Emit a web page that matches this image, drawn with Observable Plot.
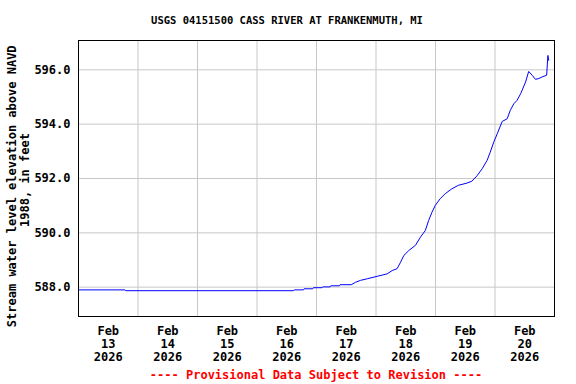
<!DOCTYPE html>
<html>
<head>
<meta charset="utf-8">
<script src="https://cdn.jsdelivr.net/npm/d3@7"></script>
<script src="https://cdn.jsdelivr.net/npm/@observablehq/plot@0.6"></script>
<style>
  html, body { margin: 0; padding: 0; background: white; }
</style>
</head>
<body>
<div id="chart"></div>
<script>
const title = "USGS 04151500 CASS RIVER AT FRANKENMUTH, MI";
const yLabel1 = "Stream water level elevation above NAVD";
const yLabel2 = "1988, in feet";
const footer = "---- Provisional Data Subject to Revision ----";

const times = [
  "2026-02-13T00:00", "2026-02-13T18:45", "2026-02-13T19:00", "2026-02-16T14:45",
  "2026-02-16T15:00", "2026-02-16T18:45", "2026-02-16T19:00", "2026-02-16T22:30",
  "2026-02-16T22:45", "2026-02-17T02:15", "2026-02-17T02:30", "2026-02-17T05:30",
  "2026-02-17T05:45", "2026-02-17T09:15", "2026-02-17T09:30", "2026-02-17T14:00",
  "2026-02-17T15:45", "2026-02-17T17:45", "2026-02-17T20:30", "2026-02-18T00:30",
  "2026-02-18T04:30", "2026-02-18T06:30", "2026-02-18T08:30", "2026-02-18T09:55",
  "2026-02-18T11:15", "2026-02-18T13:15", "2026-02-18T15:55", "2026-02-18T17:55",
  "2026-02-18T19:55", "2026-02-18T21:15", "2026-02-18T22:35", "2026-02-18T23:55",
  "2026-02-19T01:55", "2026-02-19T03:55", "2026-02-19T06:35", "2026-02-19T09:15",
  "2026-02-19T12:40", "2026-02-19T14:40", "2026-02-19T16:45", "2026-02-19T18:50",
  "2026-02-19T20:50", "2026-02-19T22:05", "2026-02-19T23:30", "2026-02-20T00:55",
  "2026-02-20T02:55", "2026-02-20T04:55", "2026-02-20T06:10", "2026-02-20T07:35",
  "2026-02-20T08:55", "2026-02-20T10:20", "2026-02-20T12:20", "2026-02-20T13:35",
  "2026-02-20T15:00", "2026-02-20T16:20", "2026-02-20T17:40", "2026-02-20T19:00",
  "2026-02-20T20:50", "2026-02-20T21:20", "2026-02-20T21:40"
];
const levels = [
  587.90, 587.90, 587.87, 587.87,
  587.90, 587.90, 587.94, 587.94,
  587.98, 587.98, 588.01, 588.01,
  588.05, 588.05, 588.09, 588.09,
  588.18, 588.25, 588.31, 588.40,
  588.49, 588.61, 588.68, 588.92,
  589.17, 589.35, 589.54, 589.84,
  590.09, 590.46, 590.76, 591.01,
  591.26, 591.44, 591.62, 591.75,
  591.83, 591.90, 592.10, 592.36,
  592.67, 592.97, 593.34, 593.65,
  594.10, 594.20, 594.51, 594.75,
  594.88, 595.12, 595.55, 595.94,
  595.80, 595.65, 595.68, 595.74,
  595.80, 596.53, 596.35
];

const xLabelDays = ["2026-02-13", "2026-02-14", "2026-02-15", "2026-02-16",
                    "2026-02-17", "2026-02-18", "2026-02-19", "2026-02-20"];
const xGridDays = ["2026-02-14", "2026-02-15", "2026-02-16", "2026-02-17",
                   "2026-02-18", "2026-02-19", "2026-02-20"];
const yTicks = [588, 590, 592, 594, 596];
const xDomain = ["2026-02-13T00:00", "2026-02-21T00:00"];
const yDomain = [586.92, 597.08];

const toDate = s => new Date(s + (s.length <= 10 ? "T00:00Z" : "Z"));
const data = times.map((t, i) => ({date: toDate(t), value: levels[i]}));
const labelDates = xLabelDays.map(d => new Date(toDate(d).getTime() + 12 * 3600 * 1000));
const gridDates = xGridDays.map(toDate);
const fmt = d3.utcFormat("%b\n%d\n%Y");

const font = "DejaVu Sans Mono";
const centered = {textAnchor: "middle", lineAnchor: "middle"};

const chart = Plot.plot({
  width: 576,
  height: 384,
  marginLeft: 78,
  marginRight: 22,
  marginTop: 40,
  marginBottom: 68,
  style: {fontFamily: font, fontWeight: "bold", fontSize: "12px", color: "black", background: "white"},
  x: {type: "utc", domain: xDomain.map(toDate)},
  y: {domain: yDomain},
  marks: [
    Plot.ruleX(gridDates, {stroke: "#c8c8c8", strokeWidth: 1}),
    Plot.ruleY(yTicks, {stroke: "#c8c8c8", strokeWidth: 1}),
    Plot.line(data, {x: "date", y: "value", stroke: "#0000ff", strokeWidth: 1}),
    Plot.frame({stroke: "black", strokeWidth: 1}),
    Plot.axisY(yTicks, {tickSize: 0, tickPadding: 8, tickFormat: d => d.toFixed(1), fontSize: 12, label: null}),
    Plot.axisX(labelDates, {tickSize: 0, tickPadding: 9, tickFormat: fmt, fontSize: 12, lineHeight: 1.08, label: null}),
    Plot.text([title], {text: d => d, frameAnchor: "top", dx: -29.5, dy: -19.5, fontSize: 10.5, fill: "black", ...centered}),
    Plot.text([yLabel1], {text: d => d, frameAnchor: "left", rotate: -90, dx: -66.7, dy: 7.8, fontSize: 12, fill: "black", ...centered}),
    Plot.text([yLabel2], {text: d => d, frameAnchor: "left", rotate: -90, dx: -53, dy: 1.5, fontSize: 12, fill: "black", ...centered}),
    Plot.text([footer], {text: d => d, frameAnchor: "bottom", dx: -0.5, dy: 59, fontSize: 12, fill: "#ff0000", ...centered})
  ]
});
document.getElementById("chart").appendChild(chart);
</script>
</body>
</html>
